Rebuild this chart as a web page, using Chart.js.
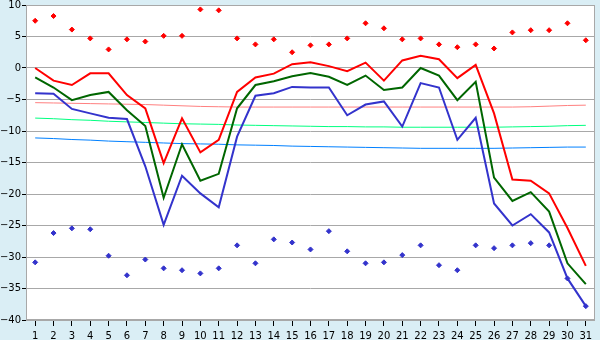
<!DOCTYPE html>
<html>
<head>
<meta charset="utf-8">
<script src="https://cdn.jsdelivr.net/npm/chart.js@4/dist/chart.umd.min.js"></script>
<style>
  html, body { margin: 0; padding: 0; background: #daeef5; }
  #wrap { width: 600px; height: 340px; position: relative; }
</style>
</head>
<body>
<div id="wrap"><canvas id="c" width="600" height="340"></canvas></div>
<script>
const days = Array.from({length: 31}, (_, i) => String(i + 1));
const yTicks = [10, 5, 0, -5, -10, -15, -20, -25, -30, -35, -40];

const maxTemp = [0.0, -2.0, -2.7, -0.85, -0.85, -4.3, -6.4, -15.1, -8.0, -13.4, -11.4, -3.8, -1.5, -0.9, 0.6, 0.9, 0.3, -0.5, 0.85, -2.0, 1.2, 1.95, 1.4, -1.6, 0.5, -7.2, -17.7, -17.9, -19.9, -25.4, -31.4];
const meanTemp = [-1.5, -3.1, -5.1, -4.3, -3.8, -6.7, -9.2, -20.6, -12.1, -17.9, -16.8, -6.4, -2.7, -2.1, -1.3, -0.8, -1.4, -2.7, -1.2, -3.5, -3.1, 0.0, -1.2, -5.1, -2.2, -17.4, -21.1, -19.7, -22.8, -31.0, -34.3];
const minTemp = [-4.0, -4.1, -6.5, -7.2, -7.9, -8.1, -15.6, -24.9, -17.1, -19.9, -22.1, -10.9, -4.4, -4.0, -3.0, -3.1, -3.1, -7.5, -5.8, -5.3, -9.3, -2.4, -3.1, -11.4, -7.9, -21.5, -25.0, -23.2, -26.1, -33.4, -37.8];

const recordMax = [7.5, 8.25, 6.1, 4.7, 2.95, 4.55, 4.2, 5.1, 5.1, 9.3, 9.15, 4.7, 3.75, 4.55, 2.5, 3.6, 3.75, 4.7, 7.1, 6.3, 4.55, 4.7, 3.75, 3.3, 3.75, 3.1, 5.65, 6.0, 6.0, 7.1, 4.4];
const recordMin = [-30.85, -26.2, -25.45, -25.6, -29.8, -32.9, -30.4, -31.8, -32.1, -32.6, -31.8, -28.15, -31.0, -27.2, -27.7, -28.8, -25.9, -29.1, -31.0, -30.85, -29.7, -28.15, -31.3, -32.1, -28.15, -28.6, -28.15, -27.8, -28.15, -33.4, -37.8];

const normalMax = [-5.5, -5.55, -5.6, -5.65, -5.7, -5.75, -5.8, -5.9, -6.0, -6.1, -6.15, -6.2, -6.2, -6.2, -6.2, -6.2, -6.2, -6.2, -6.2, -6.2, -6.2, -6.2, -6.2, -6.2, -6.2, -6.2, -6.2, -6.15, -6.05, -5.95, -5.9];
const normalMean = [-7.95, -8.05, -8.2, -8.3, -8.45, -8.55, -8.65, -8.75, -8.85, -8.9, -8.95, -9.05, -9.1, -9.15, -9.2, -9.25, -9.3, -9.3, -9.35, -9.35, -9.4, -9.4, -9.4, -9.4, -9.4, -9.4, -9.35, -9.3, -9.25, -9.15, -9.1];
const normalMin = [-11.1, -11.2, -11.35, -11.45, -11.6, -11.7, -11.8, -11.9, -12.0, -12.05, -12.1, -12.2, -12.25, -12.3, -12.4, -12.45, -12.5, -12.55, -12.6, -12.65, -12.7, -12.75, -12.75, -12.75, -12.75, -12.75, -12.7, -12.65, -12.6, -12.55, -12.55];

const plotFrame = {
  id: 'plotFrame',
  beforeDraw(chart) {
    const a = chart.chartArea, ctx = chart.ctx;
    ctx.save();
    ctx.fillStyle = '#ffffff';
    ctx.fillRect(a.left, a.top, a.right - a.left, a.bottom - a.top);
    ctx.restore();
  },
  afterDatasetsDraw(chart) {
    const a = chart.chartArea, ctx = chart.ctx;
    ctx.save();
    ctx.strokeStyle = '#a8a8a8';
    ctx.lineWidth = 1;
    ctx.strokeRect(Math.round(a.left) + 0.5, Math.round(a.top) + 0.5, Math.round(a.right - a.left) - 1, Math.round(a.bottom - a.top) - 1);
    ctx.restore();
  }
};

function lineDs(data, color, width, order) {
  return { data, borderColor: color, backgroundColor: color, borderWidth: width, pointRadius: 0, fill: false, tension: 0, order };
}
function pointDs(data, color, order) {
  return { data, showLine: false, borderColor: color, backgroundColor: color, pointStyle: 'rectRot', pointRadius: 2.5, pointBorderWidth: 1, order };
}

new Chart(document.getElementById('c'), {
  type: 'line',
  data: {
    labels: days,
    datasets: [
      lineDs(normalMax, '#ff8080', 1, 9),
      lineDs(normalMean, '#00ff80', 1, 8),
      lineDs(normalMin, '#0080ff', 1, 7),
      lineDs(maxTemp, '#ff0000', 2, 6),
      lineDs(meanTemp, '#006600', 2, 5),
      lineDs(minTemp, '#3333cc', 2, 4),
      pointDs(recordMax, '#ff0000', 2),
      pointDs(recordMin, '#3333cc', 1)
    ]
  },
  options: {
    responsive: false,
    animation: false,
    events: [],
    layout: { padding: { top: 5, right: 5, left: 0, bottom: 0 } },
    plugins: { legend: { display: false }, tooltip: { enabled: false } },
    scales: {
      x: {
        type: 'category',
        offset: true,
        grid: { display: true, drawOnChartArea: false, drawTicks: true, tickLength: 6, color: '#000000', tickColor: '#000000', offset: false },
        border: { display: false },
        ticks: { color: '#000000', font: { family: 'DejaVu Sans', size: 10 }, padding: 4, maxRotation: 0, autoSkip: false },
        afterFit(s) { s.height = 20; s.paddingLeft = 0; s.paddingRight = 0; }
      },
      y: {
        min: -40, max: 10,
        afterBuildTicks(s) { s.ticks = yTicks.map(v => ({ value: v })); },
        grid: { color: '#a8a8a8', drawTicks: true, tickLength: 4, tickColor: '#000000' },
        border: { display: false },
        ticks: { color: '#000000', font: { family: 'DejaVu Sans', size: 10 }, padding: 1,
                 callback: v => String(v).replace('-', '\u2212') },
        afterFit(s) { s.width = 26; s.paddingTop = 0; s.paddingBottom = 0; }
      }
    }
  },
  plugins: [plotFrame]
});
</script>
</body>
</html>
